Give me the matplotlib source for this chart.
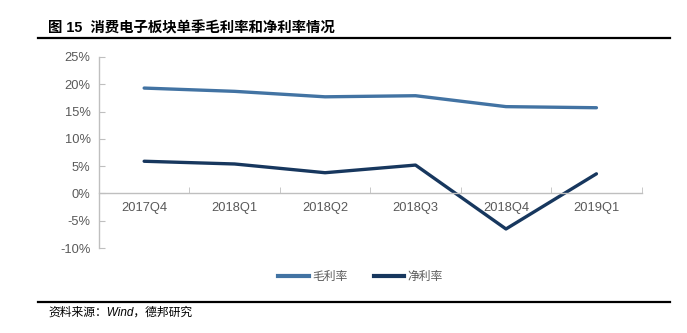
import matplotlib.pyplot as plt
from matplotlib.lines import Line2D
from matplotlib.ticker import FixedLocator, FuncFormatter

plt.rcParams['font.family'] = ['Liberation Sans', 'Noto Sans CJK SC', 'DejaVu Sans']

quarters = ["2017Q4", "2018Q1", "2018Q2", "2018Q3", "2018Q4", "2019Q1"]
gross_margin = [19.3, 18.7, 17.7, 17.9, 15.9, 15.7]
net_margin = [5.9, 5.4, 3.8, 5.2, -6.5, 3.6]

c_gross = "#4273a3"
c_net = "#17375e"
c_axis = "#bfbfbf"
c_text = "#595959"

fig = plt.figure(figsize=(6.87, 3.33), dpi=100)
ax = fig.add_axes([0.144, 0.255, 0.79, 0.574])

x = range(len(quarters))
ax.plot(x, gross_margin, color=c_gross, lw=2.4, solid_capstyle="round")
ax.plot(x, net_margin, color=c_net, lw=2.4, solid_capstyle="round")

ax.set_xlim(-0.5, len(quarters) - 0.5)
ax.set_ylim(-10, 25)
ax.set_yticks(range(-10, 26, 5))
ax.yaxis.set_major_formatter(FuncFormatter(lambda v, p: f"{v:.0f}%"))

ax.set_xticks(list(x))
ax.set_xticklabels(quarters)
ax.xaxis.set_minor_locator(FixedLocator([i - 0.5 for i in range(len(quarters) + 1)]))

for s in ["top", "right"]:
    ax.spines[s].set_visible(False)
ax.spines["bottom"].set_position(("data", 0))
for s in ["left", "bottom"]:
    ax.spines[s].set_color(c_axis)
    ax.spines[s].set_linewidth(1.0)

ax.tick_params(axis="x", which="major", length=0, pad=6, labelsize=9.3, labelcolor=c_text)
ax.tick_params(axis="x", which="minor", direction="in", length=4, color=c_axis)
ax.tick_params(axis="y", direction="in", length=4, color=c_axis, labelsize=9.3,
               labelcolor=c_text, pad=6)

handles = [Line2D([], [], color=c_gross, lw=3), Line2D([], [], color=c_net, lw=3)]
fig.legend(handles, ["毛利率", "净利率"], loc="center", bbox_to_anchor=(0.525, 0.17),
           ncol=2, frameon=False, handlelength=2.6, columnspacing=2.2, handletextpad=0.3,
           prop={"family": ["Noto Sans CJK SC"], "size": 8.5}, labelcolor=c_text)

# header and footer
fig.text(0.07, 0.915, "图 15  消费电子板块单季毛利率和净利率情况", fontsize=10.4, fontweight="bold",
         family=["Liberation Sans", "Noto Sans CJK SC"], va="center")
fig.add_artist(Line2D([0.055, 0.975], [0.886, 0.886], color="black", lw=1.6))
fig.add_artist(Line2D([0.055, 0.975], [0.093, 0.093], color="black", lw=1.6))
fig.text(0.07, 0.06, "资料来源：Wind，德邦研究", fontsize=8.5, style="italic",
         family=["Liberation Sans", "Noto Sans CJK SC"], va="center")

fig.savefig("out.png", dpi=100)
